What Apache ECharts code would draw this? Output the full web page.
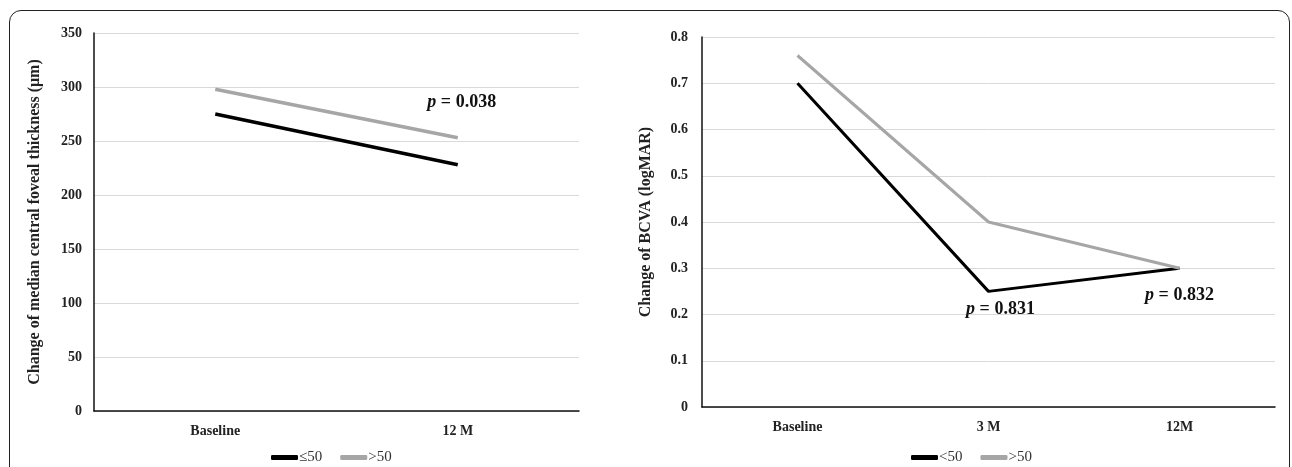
<!DOCTYPE html>
<html>
<head>
<meta charset="utf-8">
<script src="https://cdn.jsdelivr.net/npm/echarts@6/dist/echarts.min.js"></script>
<style>
  body { margin: 0; background: #fff; }
  .frame {
    position: absolute;
    left: 9px;
    top: 10px;
    width: 1279px;
    height: 500px;
    border: 1.5px solid #222;
    border-radius: 12px;
  }
  #myChart {
    position: absolute;
    left: 0;
    top: 0;
    width: 1292px;
    height: 467px;
  }
</style>
</head>
<body>
<div class="frame"></div>
<div id="myChart"></div>
<script>
  // left panel: central foveal thickness
  var cftCategories = ['Baseline', '12 M']
  var cftLow = [275, 228]
  var cftHigh = [298, 253]
  var cftNote = {text: '0.038', at: ['12 M', 286]}

  // right panel: BCVA
  var bcvaCategories = ['Baseline', '3 M', '12M']
  var bcvaLow = [0.70, 0.25, 0.30]
  var bcvaHigh = [0.76, 0.40, 0.30]
  var bcvaNotes = [
    {text: '0.831', at: ['3 M', 0.212]},
    {text: '0.832', at: ['12M', 0.242]}
  ]

  var serif = '"Liberation Serif", "DejaVu Serif", serif'
  var black = '#000'
  var grey = '#a6a6a6'

  function pNote (n, dx) {
    return {
      coord: n.at,
      symbol: 'circle',
      symbolSize: 2,
      itemStyle: {color: 'rgba(0,0,0,0)'},
      label: {
        show: true,
        position: 'inside',
        offset: [dx || 0, 0],
        formatter: '{i|p} = {v|' + n.text + '}',
        rich: {
          i: {fontStyle: 'italic', fontFamily: serif, fontSize: 18, fontWeight: 'bold', color: '#111'},
          v: {fontFamily: serif, fontSize: 18, fontWeight: 'bold', color: '#111'}
        },
        fontFamily: serif,
        fontSize: 18,
        fontWeight: 'bold',
        color: '#111'
      }
    }
  }

  function yAxis (idx, max, step, title, gap, margin) {
    return {
      type: 'value',
      gridIndex: idx,
      min: 0,
      max: max,
      interval: step,
      name: title,
      nameLocation: 'middle',
      nameRotate: 90,
      nameGap: gap,
      nameTextStyle: {fontFamily: serif, fontSize: 16, fontWeight: 'bold', color: '#222'},
      axisLine: {show: true, lineStyle: {color: '#111', width: 1.5}},
      axisTick: {show: false},
      axisLabel: {fontFamily: serif, fontSize: 14, fontWeight: 'bold', color: '#222', margin: margin},
      splitLine: {lineStyle: {color: '#d9d9d9', width: 1}}
    }
  }

  function xAxis (idx, cats) {
    return {
      type: 'category',
      gridIndex: idx,
      data: cats,
      boundaryGap: true,
      axisLine: {lineStyle: {color: '#111', width: 1.5}},
      axisTick: {show: false},
      axisLabel: {fontFamily: serif, fontSize: 14, fontWeight: 'bold', color: '#222', margin: 13}
    }
  }

  function line (name, data, color, idx, width) {
    return {
      name: name,
      type: 'line',
      xAxisIndex: idx,
      yAxisIndex: idx,
      data: data,
      symbol: 'none',
      lineStyle: {color: color, width: width},
      itemStyle: {color: color}
    }
  }

  var legendBase = {
    bottom: -3,
    icon: 'roundRect',
    itemWidth: 27,
    itemHeight: 5,
    itemGap: 18,
    textStyle: {fontFamily: serif, fontSize: 15, color: '#333', padding: [0, 0, 0, -4]}
  }

  var option = {
    animation: false,
    grid: [
      {left: 94, top: 33, width: 485, height: 378},
      {left: 702, top: 37, width: 573, height: 370}
    ],
    xAxis: [xAxis(0, cftCategories), xAxis(1, bcvaCategories)],
    yAxis: [
      yAxis(0, 350, 50, 'Change of median central foveal thickness (μm)', 51, 12),
      yAxis(1, 0.8, 0.1, 'Change of BCVA (logMAR)', 48, 14)
    ],
    legend: [
      Object.assign({}, legendBase, {left: 266, data: ['≤50', '>50']}),
      Object.assign({}, legendBase, {left: 906, data: ['<50', '>50 ']})
    ],
    series: [
      line('≤50', cftLow, black, 0, 3.5),
      Object.assign(line('>50', cftHigh, grey, 0, 3.5), {
        markPoint: {silent: true, data: [pNote(cftNote, 4)]}
      }),
      Object.assign(line('<50', bcvaLow, black, 1, 3), {
        markPoint: {silent: true, data: [pNote(bcvaNotes[0], 12), pNote(bcvaNotes[1], 0)]}
      }),
      line('>50 ', bcvaHigh, grey, 1, 3)
    ]
  }

  var myChart = echarts.init(document.getElementById('myChart'))
  myChart.setOption(option)
</script>
</body>
</html>
